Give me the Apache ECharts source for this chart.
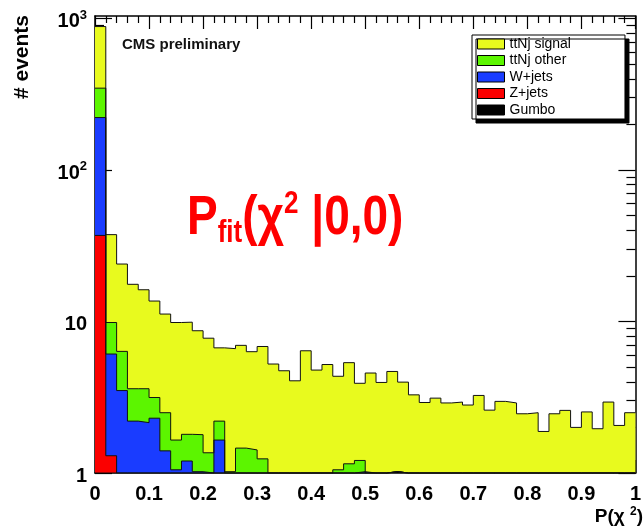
<!DOCTYPE html>
<html><head><meta charset="utf-8">
<script src="https://cdn.jsdelivr.net/npm/echarts@6/dist/echarts.min.js"></script>
<style>html,body{margin:0;padding:0;background:#fff}#c{width:644px;height:527px}</style>
</head><body><div id="c"></div>
<script>
// ---- data (bins of width 0.02 in P(chi^2)) ----
const binLow = [0,0.02,0.04,0.06,0.08,0.1,0.12,0.14,0.16,0.18,
  0.2,0.22,0.24,0.26,0.28,0.3,0.32,0.34,0.36,0.38,
  0.4,0.42,0.44,0.46,0.48,0.5,0.52,0.54,0.56,0.58,
  0.6,0.62,0.64,0.66,0.68,0.7,0.72,0.74,0.76,0.78,
  0.8,0.82,0.84,0.86,0.88,0.9,0.92,0.94,0.96,0.98];
const xMax = 1;
const signal = [538,27.6,17.6,14.0,12.6,10.5,8.7,8.2,8.1,6.9,
  6.4,4.5,5.6,5.5,4.9,5.6,5.24,4.73,4.06,6.41,
  4.78,5.2,3.3,4.2,2.7,4.57,3.96,3.66,3.98,3.28,
  2.92,3.12,2.9,2.94,2.81,3.25,2.6,2.97,2.9,2.46,
  2.5,1.88,2.46,2.59,2.0,2.53,1.96,2.94,2.06,2.5];
const other = [125,3.75,2.85,1.4,1.45,0.85,1.1,0.6,0.6,0.77,
  1.36,0.55,1.02,1.46,1.42,1.24,0,0,0,0,
  0,0,1.05,1.15,0.19,0,0,0,0,0,
  0,0,0,0,0,0,0,0,0,0,
  0,0,0,0,0,0,0,0,0,0];
const wjets = [185,4.8,3.5,2.2,2.15,2.3,1.4,1.05,1.2,1.02,
  0,1.65,0,0,0,0,0,0,0,0,
  0,0,0,0,1.02,0,0,0,0,0,
  0,0,0,0,0,0,0,0,0,0,
  0,0,0,0,0,0,0,0,0,0];
const zjets = [37,1.3,0,0,0,0,0,0,0,0,
  0,0,0,0,0,0,0,0,0,0,
  0,0,0,0,0,0,0,0,0,0,
  0,0,0,0,0,0,0,0,0,0,
  0,0,0,0,0,0,0,0,0,0];
const gumbo = [0,0,0,0,0,0,0,0,0,0,
  0,0,0,0,0,0,0,0,0,0,
  0,0,0,0,0,0,0,1.02,0,0,
  0,0,0,0,0,0,0,0,0,0,
  0,0,0,0,0,0,0,0,0,0];
const seriesNames = ['ttNj signal','ttNj other','W+jets','Z+jets','Gumbo'];
const seriesColors = ['#e8fa1e','#5cf500','#1a3cff','#fb0000','#000000'];
const xTicks = [0,0.1,0.2,0.3,0.4,0.5,0.6,0.7,0.8,0.9,1];
const yMajor = [1,10,100,1000];
const yMinor = [2,3,4,5,6,7,8,9,20,30,40,50,60,70,80,90,200,300,400,500,600,700,800,900];
const yMin = 1, yMax = 1039;

// ---- build ----
const FONT = '"Liberation Sans", Arial, sans-serif';
function cum(arrs){ return binLow.map((_,i)=>arrs.reduce((s,a)=>s+a[i],0)); }
// stacking order bottom -> top: Gumbo, Z+jets, W+jets, ttNj other, ttNj signal
const cumG = cum([gumbo]);
const cumZ = cum([gumbo, zjets]);
const cumW = cum([gumbo, zjets, wjets]);
const cumO = cum([gumbo, zjets, wjets, other]);
const cumS = cum([gumbo, zjets, wjets, other, signal]);
function stepData(c){
  const d = binLow.map((x,i)=>[x, Math.max(c[i], yMin)]);
  d.push([xMax, Math.max(c[c.length-1], yMin)]);
  return d;
}
function hist(idx, c){
  const color = seriesColors[idx];
  return {name: seriesNames[idx], type:'line', step:'end', xAxisIndex:0, yAxisIndex:0,
    data: stepData(c), symbol:'none', showSymbol:false, color: color,
    itemStyle:{color: color}, lineStyle:{color:'#111', width:1},
    areaStyle:{color: color, opacity:1, origin:'start'}, silent:true, animation:false};
}
const tickStyle = {color:'#000', width:1.2};
function xAx(pos, showLabel){
  return {type:'value', min:0, max:xMax, interval:0.1, position:pos,
    axisLine:{show:true, onZero:false, lineStyle:{color:'#000', width:1.5}},
    axisTick:{show:true, inside:true, length:13, lineStyle:tickStyle},
    minorTick:{show:true, splitNumber:5, length:7, lineStyle:tickStyle},
    splitLine:{show:false}, minorSplitLine:{show:false},
    axisLabel:{show:showLabel, fontFamily:FONT, fontWeight:'bold', fontSize:20, color:'#000', margin:11,
      formatter: v => { const t = xTicks.find(a=>Math.abs(a-v)<1e-6); return t===0?'0':t===1?'1':t.toFixed(1);} }};
}
function yAx(pos, vals, len, showLine, showLabel){
  return {type:'log', logBase:10, min:yMin, max:yMax, position:pos,
    axisLine:{show:showLine, onZero:false, lineStyle:{color:'#000', width:1.5}},
    axisTick:{show:true, inside:true, length:len, customValues: vals, lineStyle:tickStyle},
    splitLine:{show:false},
    axisLabel:{show:showLabel, customValues: vals, fontFamily:FONT, fontWeight:'bold', fontSize:20, color:'#000',
      margin:8, lineHeight:26, padding:[6,0,0,0],
      formatter: v => { const e = Math.round(Math.log10(v)); return e===0?'1':e===1?'10':'10{sup|'+e+'}'; },
      rich:{sup:{fontFamily:FONT, fontWeight:'bold', fontSize:13, color:'#000', verticalAlign:'top', lineHeight:13}}}};
}
const chart = echarts.init(document.getElementById('c'), null, {renderer:'canvas'});
chart.setOption({
  animation:false,
  backgroundColor:'#fff',
  grid:{left:95, right:2, top:16, bottom:54, containLabel:false},
  xAxis:[xAx('bottom', true), xAx('top', false)],
  yAxis:[yAx('left', yMajor, 17, true, true), yAx('left', yMinor, 9, false, false),
         yAx('right', yMajor, 17, true, false), yAx('right', yMinor, 9, false, false)],
  legend:{data: seriesNames, orient:'vertical', left:472, top:35, itemWidth:27, itemHeight:10, itemGap:0.5,
    padding:[1,54,1,5], icon:'rect', backgroundColor:'#fff', borderColor:'#000', borderWidth:1,
    shadowColor:'#000', shadowBlur:0, shadowOffsetX:4, shadowOffsetY:4, selectedMode:false,
    itemStyle:{borderColor:'#000', borderWidth:1},
    textStyle:{fontFamily:FONT, fontSize:14, color:'#000', lineHeight:16}},
  // total drawn first, then the lower partial sums over it (as a stacked histogram)
  series:[hist(0,cumS), hist(1,cumO), hist(2,cumW), hist(3,cumZ), hist(4,cumG)],
  graphic:[
    {type:'text', x:122, y:45, silent:true, style:{text:'CMS preliminary', font:'bold 15px '+FONT, fill:'#111', verticalAlign:'middle'}},
    {type:'text', x:187, y:219, scaleY:1.2, silent:true, style:{text:'{m|P}{s|fit}{m|(χ}{p|2}{m| |0,0)}', verticalAlign:'middle',
      rich:{m:{font:'bold 46px '+FONT, fill:'#ff0000', lineHeight:50},
            s:{font:'bold 26px '+FONT, fill:'#ff0000', verticalAlign:'bottom', lineHeight:26},
            p:{font:'bold 26px '+FONT, fill:'#ff0000', verticalAlign:'top', lineHeight:26}}}},
    {type:'text', x:22, y:57, rotation:Math.PI/2, silent:true, style:{text:'# events', font:'bold 21px '+FONT, fill:'#000', align:'center', verticalAlign:'middle'}},
    {type:'text', x:643, y:517, silent:true, style:{text:'P(χ {p|2})', font:'bold 19px '+FONT, fill:'#000', align:'right', verticalAlign:'middle', lineHeight:22,
      rich:{p:{font:'bold 12px '+FONT, fill:'#000', verticalAlign:'top', lineHeight:12}}}}
  ]
});
</script></body></html>
